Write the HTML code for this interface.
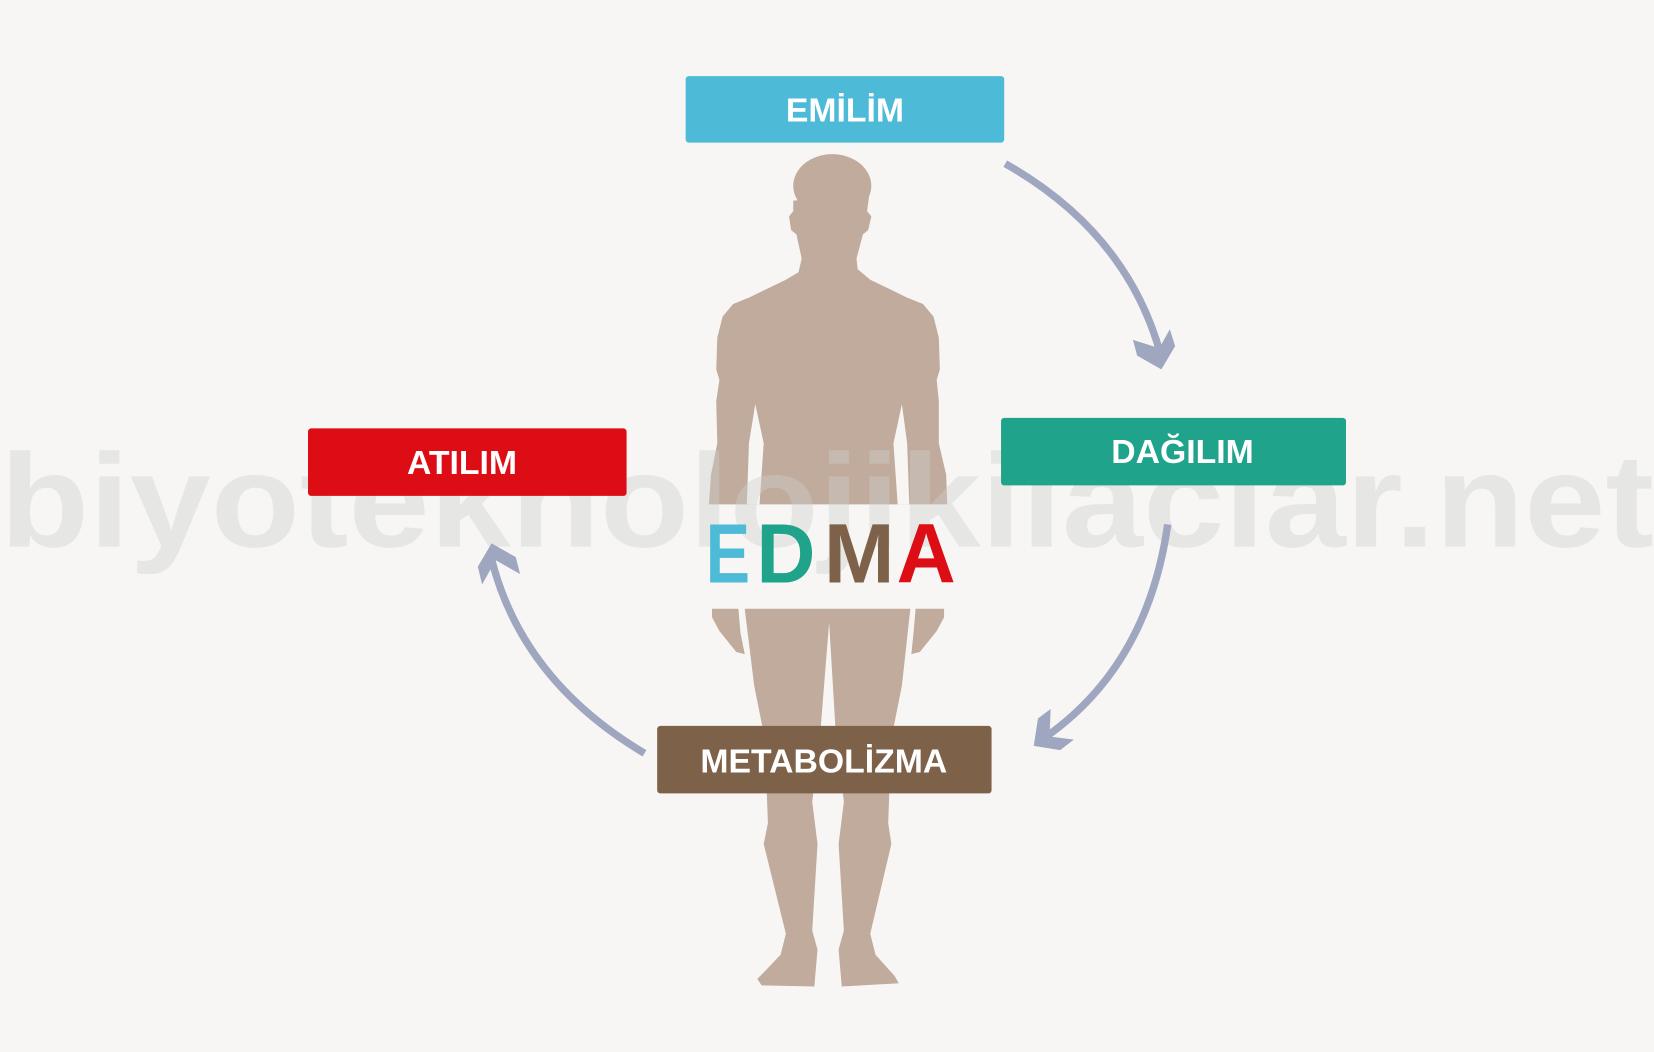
<!DOCTYPE html>
<html><head><meta charset="utf-8"><style>
html,body{margin:0;padding:0;background:#f7f6f4;}
svg{display:block}
</style></head><body>
<svg width="1654" height="1052" viewBox="0 0 1568 997" xmlns="http://www.w3.org/2000/svg">
<rect width="1568" height="997" fill="#f7f6f4"/>
<g fill="#c0ab9c">
<ellipse cx="789" cy="176" rx="37" ry="30"/>
<path d="M752,190 L752,200 L748,205 L750,218 L755,222 L760,245 L757,258 L745,265 L710,282 L695,288 L685,300 L680,320 L679,350 L682,360 L679,380 L680,420 L674,450 L672,478 L898,478 L897,450 L890,420 L890,380 L888,360 L891,350 L890,320 L885,300 L875,288 L860,282 L825,265 L813,255 L812,245 L818,222 L823,218 L826,205 L822,200 L824,185 Z"/>
<path d="M706,577 L715,650 L725,700 L728,780 L724,800 L745,885 L740,905 L718,928 L722,934 L772,935 L775,900 L770,882 L775,800 L770,760 L778,690 L786,590 L792,690 L800,760 L795,800 L800,882 L795,900 L798,935 L852,932 L848,925 L830,905 L825,885 L845,800 L842,780 L845,700 L855,650 L863,577 Z"/>
<path d="M675,577 L700,577 L702,600 L706,620 L698,618 L682,598 L675,585 Z"/>
<path d="M895,577 L868,577 L866,600 L864,620 L872,618 L888,598 L895,585 Z"/>
</g>
<g fill="#f7f6f4">
<path d="M716,383 L724,420 L720,478 L708,478 L710,420 Z"/>
<path d="M855,383 L847,420 L851,478 L862,478 L860,420 Z"/>
</g>
<text x="0" y="518" font-family="Liberation Sans, sans-serif" font-weight="bold" font-size="126" fill="#cfcfcc" fill-opacity="0.42" textLength="1568" lengthAdjust="spacingAndGlyphs">biyoteknolojikilaclar.net</text>
<g font-family="Liberation Sans, sans-serif" font-weight="bold" font-size="80">
<text x="669" y="552" fill="#4dbad8" textLength="42" lengthAdjust="spacingAndGlyphs">E</text>
<text x="717" y="552" fill="#1fa38a" textLength="56" lengthAdjust="spacingAndGlyphs">D</text>
<text x="781" y="552" fill="#7d6148" textLength="67" lengthAdjust="spacingAndGlyphs">M</text>
<text x="850" y="552" fill="#dd0d15" textLength="56" lengthAdjust="spacingAndGlyphs">A</text>
</g>
<g fill="none" stroke="#9ea6c0" stroke-width="7">
<path d="M953,155 Q1068,220 1100,335"/>
<path d="M1107,497 Q1088,630 992,698"/>
<path d="M611,714 Q495,645 466,530"/>
</g>
<g fill="#9ea6c0">
<polygon points="1074,322 1078,337 1101,350 1114,328 1109,312 1099,330"/>
<polygon points="996,672 984,681 980,707 1005,711 1018,701 995,698"/>
<polygon points="457,554 453,537 466,515 489,528 493,544 470,531"/>
</g>
<g font-family="Liberation Sans, sans-serif" font-weight="bold" font-size="32" fill="#fff" text-anchor="middle">
<rect x="650" y="72" width="302" height="63" rx="3" fill="#4dbad8"/>
<text x="801" y="115">EMİLİM</text>
<rect x="949" y="396" width="327" height="64" rx="3" fill="#1fa38a"/>
<text x="1121" y="439">DAĞILIM</text>
<rect x="292" y="406" width="302" height="64" rx="3" fill="#dd0d15"/>
<text x="438" y="449">ATILIM</text>
<rect x="623" y="688" width="317" height="64" rx="3" fill="#7d6148"/>
<text x="781" y="732">METABOLİZMA</text>
</g>
</svg>
</body></html>
